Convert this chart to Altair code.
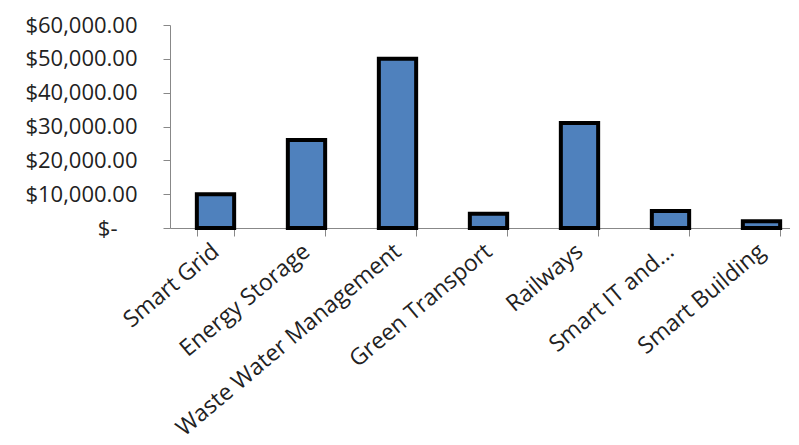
import altair as alt
import pandas as pd

categories = ["Smart Grid", "Energy Storage", "Waste Water Management",
              "Green Transport", "Railways", "Smart IT and...", "Smart Building"]
values = [10000, 26000, 50000, 4200, 31000, 5000, 2000]

df = pd.DataFrame({"category": categories, "value": values})

FONT = "Open Sans"

chart = alt.Chart(df).mark_bar(
    color="#4F81BD", stroke="#000000", strokeWidth=4
).encode(
    x=alt.X("category:N", sort=categories,
            scale=alt.Scale(range=[0, 637], paddingInner=0.59, paddingOuter=0.295),
            axis=alt.Axis(title=None, labelAngle=320, labelFont=FONT, labelFontSize=23,
                          labelColor="#222222", domainColor="#888888", tickColor="#888888",
                          tickSize=8, tickBand="extent", labelPadding=12,
                          labelAlign="right", labelBaseline="middle", labelLimit=0)),
    y=alt.Y("value:Q", scale=alt.Scale(domain=[0, 60000], nice=False),
            axis=alt.Axis(title=None, values=[0, 10000, 20000, 30000, 40000, 50000, 60000],
                          grid=False, labelFont=FONT, labelFontSize=22, labelColor="#222222",
                          domainColor="#888888", tickColor="#888888", tickSize=7,
                          labelPadding={"condition": {"test": "datum.value === 0", "value": 46},
                                        "value": 26},
                          labelExpr="datum.value == 0 ? '$-' : '$' + format(datum.value, ',.2f')")),
).properties(
    width=620, height=203,
    autosize=alt.AutoSizeParams(type="none"),
    padding={"left": 162, "top": 17, "right": 0, "bottom": 212},
).configure_view(stroke=None)

chart.save("out.html", embed_options={"renderer": "svg", "actions": False})
